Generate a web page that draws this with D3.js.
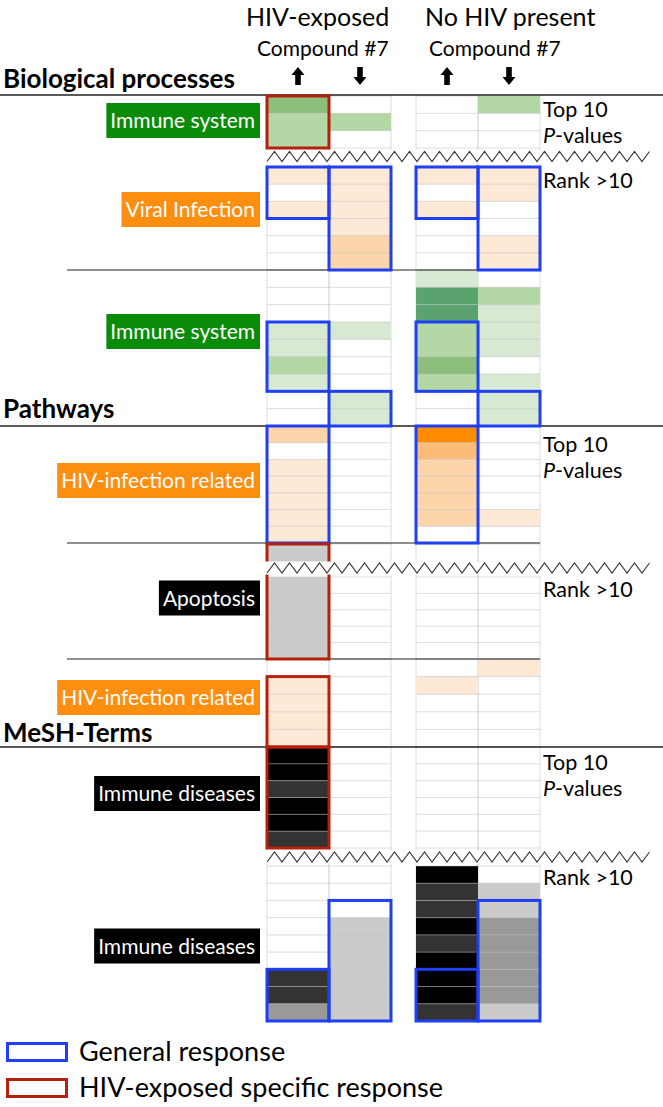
<!DOCTYPE html>
<html>
<head>
<meta charset="utf-8">
<style>
    body { margin: 0; background: #fff; }
    text { font-family: Lato, "Open Sans", sans-serif; fill: #000; }
</style>
</head>
<body>
<div id="vis"></div>
<script src="https://d3js.org/d3.v7.min.js"></script>
<script>
    // columns: condition x direction of regulation
    const conditions = ["HIV-exposed", "No HIV present"];
    const directions = ["up", "down"];
    const compoundLabel = "Compound #7";

    // enrichment level of each cell (0 = none ... 4 = strongest)
    // one array per column: HIV-exposed up, HIV-exposed down, No HIV up, No HIV down
    const bpTopImmune    = [[3,2,2], [0,2,0], [0,0,0], [2,0,0]];
    const bpRankViral    = [[1,0,1,0,0,0], [1,1,1,1,2,2], [1,0,1,0,0,0], [1,1,0,0,1,1]];
    const bpRankImmune   = [[0,0,0,1,1,2,1,0,0], [0,0,0,1,0,0,0,1,1], [1,4,4,2,2,3,2,0,0], [0,2,1,1,1,0,1,1,1]];
    const pwTopHiv       = [[2,0,1,1,1,1,1], [0,0,0,0,0,0,0], [4,3,2,2,2,2,0], [0,0,0,0,0,1,0]];
    const pwTopApoptosis = [[1], [0], [0], [0]];
    const pwRankApoptosis = [[1,1,1,1,1], [0,0,0,0,0], [0,0,0,0,0], [0,0,0,0,0]];
    const pwRankHiv      = [[0,1,1,1,1], [0,0,0,0,0], [0,1,0,0,0], [1,0,0,0,0]];
    const meshTopImmune  = [[4,4,3,4,4,3], [0,0,0,0,0,0], [0,0,0,0,0,0], [0,0,0,0,0,0]];
    const meshRankImmune = [[0,0,0,0,0,0,3,3,2], [0,0,0,1,1,1,1,1,1], [4,3,3,4,3,4,4,4,3], [0,1,1,2,2,2,2,2,1]];

    // term labels on the left
    const termLabels = [
        {text: "Immune system", kind: "green"},
        {text: "Viral Infection", kind: "orange"},
        {text: "Immune system", kind: "green"},
        {text: "HIV-infection related", kind: "orange"},
        {text: "Apoptosis", kind: "gray"},
        {text: "HIV-infection related", kind: "orange"},
        {text: "Immune diseases", kind: "gray"},
        {text: "Immune diseases", kind: "gray"}
    ];
    const categoryTitles = ["Biological processes", "Pathways", "MeSH-Terms"];

    // outlined groups: col index, first and last row (section, row)
    const responseBoxes = [
        {type: "hiv", col: 0, from: ["bpTop", 0], to: ["bpTop", 2]},
        {type: "general", col: 0, from: ["bpViral", 0], to: ["bpViral", 2]},
        {type: "general", col: 1, from: ["bpViral", 0], to: ["bpViral", 5]},
        {type: "general", col: 2, from: ["bpViral", 0], to: ["bpViral", 2]},
        {type: "general", col: 3, from: ["bpViral", 0], to: ["bpViral", 5]},
        {type: "general", col: 0, from: ["bpImmune", 3], to: ["bpImmune", 6]},
        {type: "general", col: 1, from: ["bpImmune", 7], to: ["bpImmune", 8]},
        {type: "general", col: 2, from: ["bpImmune", 3], to: ["bpImmune", 6]},
        {type: "general", col: 3, from: ["bpImmune", 7], to: ["bpImmune", 8]},
        {type: "general", col: 0, from: ["pwHiv", 0], to: ["pwHiv", 6]},
        {type: "general", col: 2, from: ["pwHiv", 0], to: ["pwHiv", 6]},
        {type: "hiv", col: 0, from: ["pwApoTop", 0], to: ["pwApo", 4]},
        {type: "hiv", col: 0, from: ["pwHivRank", 1], to: ["pwHivRank", 4]},
        {type: "hiv", col: 0, from: ["meshTop", 0], to: ["meshTop", 5]},
        {type: "general", col: 0, from: ["meshRank", 6], to: ["meshRank", 8]},
        {type: "general", col: 1, from: ["meshRank", 2], to: ["meshRank", 8]},
        {type: "general", col: 2, from: ["meshRank", 6], to: ["meshRank", 8]},
        {type: "general", col: 3, from: ["meshRank", 2], to: ["meshRank", 8]}
    ];
    const legendItems = [
        {type: "general", text: "General response"},
        {type: "hiv", text: "HIV-exposed specific response"}
    ];

    // ---- layout ----
    const width = 663, height = 1107;
    const gridLeft = 267, gridRight = 540;

    const palettes = {
        green:  ["#ffffff", "#d7e9d3", "#b3d7a5", "#8cbe7c", "#5aa36f"],
        orange: ["#ffffff", "#fde9d5", "#fcd5aa", "#fdbb78", "#ff8c00"],
        gray:   ["#ffffff", "#cbcbcb", "#999999", "#333333", "#000000"]
    };
    const labelColors = {green: "#0a8c0a", orange: "#fd8e10", gray: "#000000"};
    const boxColors = {general: "#1f3ff5", hiv: "#b3200c"};

    const sections = [
        {id: "bpTop",     values: bpTopImmune,     kind: "green",  y0: 96,  y1: 148},
        {id: "bpViral",   values: bpRankViral,     kind: "orange", y0: 167, y1: 270},
        {id: "bpImmune",  values: bpRankImmune,    kind: "green",  y0: 270, y1: 426},
        {id: "pwHiv",     values: pwTopHiv,        kind: "orange", y0: 426, y1: 543},
        {id: "pwApoTop",  values: pwTopApoptosis,  kind: "gray",   y0: 544, y1: 562},
        {id: "pwApo",     values: pwRankApoptosis, kind: "gray",   y0: 577, y1: 659},
        {id: "pwHivRank", values: pwRankHiv,       kind: "orange", y0: 659, y1: 747},
        {id: "meshTop",   values: meshTopImmune,   kind: "gray",   y0: 747, y1: 848},
        {id: "meshRank",  values: meshRankImmune,  kind: "gray",   y0: 866, y1: 1021}
    ];
    sections.forEach(function (s) {
        s.y = d3.scaleBand().domain(d3.range(s.values[0].length)).range([s.y0, s.y1]);
    });
    const sectionById = {};
    sections.forEach(function (s) { sectionById[s.id] = s; });

    const labelY = [120.5, 209.5, 331.5, 480.5, 598, 697.5, 793.5, 946];
    const titleY = [88, 418, 742];
    const fullLines = [95, 426, 747];
    const innerLines = [270, 543, 659];
    const zigzagY = [156.5, 568, 857];
    const topTenY = [117, 452, 770];
    const rankY = [188, 597, 885];

    // column scales
    let xOuter = d3.scaleBand().domain(conditions).range([gridLeft, gridRight]).paddingInner(0.168);
    let xInner = d3.scaleBand().domain(directions).range([0, xOuter.bandwidth()]);
    function colX(i) { return xOuter(conditions[Math.floor(i / 2)]) + xInner(directions[i % 2]); }
    const colW = xInner.bandwidth();

    let svg = d3.select("#vis").append("svg")
        .attr("width", width)
        .attr("height", height);
    svg.append("rect").attr("width", width).attr("height", height).attr("fill", "#fff");

    // header
    svg.append("text").attr("x", 246).attr("y", 26).style("font-size", "25px").text(conditions[0]);
    svg.append("text").attr("x", 425).attr("y", 26).style("font-size", "25px").text(conditions[1]);
    svg.append("text").attr("x", 257).attr("y", 56).style("font-size", "21px").text(compoundLabel);
    svg.append("text").attr("x", 429).attr("y", 56).style("font-size", "21px").text(compoundLabel);

    // arrows above each column
    d3.range(4).forEach(function (i) {
        let cx = colX(i) + colW / 2;
        let up = i % 2 === 0;
        let tip = up ? 67 : 85, base = up ? 85 : 67, neck = up ? 75 : 77;
        let p = d3.path();
        p.moveTo(cx, tip);
        p.lineTo(cx + 6.5, neck);
        p.lineTo(cx + 2.8, neck);
        p.lineTo(cx + 2.8, base);
        p.lineTo(cx - 2.8, base);
        p.lineTo(cx - 2.8, neck);
        p.lineTo(cx - 6.5, neck);
        p.closePath();
        svg.append("path").attr("d", p.toString()).attr("fill", "#000");
    });

    // vertical grid
    let vx = [];
    d3.range(4).forEach(function (i) { vx.push(colX(i), colX(i) + colW); });
    svg.append("g").selectAll("line")
        .data(vx)
        .enter().append("line")
        .attr("x1", d => d).attr("x2", d => d)
        .attr("y1", 95).attr("y2", 1021)
        .attr("stroke", "#dcdcdc").attr("stroke-width", 1);

    // cells
    let cells = [];
    sections.forEach(function (s) {
        s.values.forEach(function (col, ci) {
            col.forEach(function (v, ri) {
                if (v > 0) cells.push({s: s, col: ci, row: ri, v: v});
            });
        });
    });
    svg.append("g").selectAll("rect")
        .data(cells)
        .enter().append("rect")
        .attr("x", d => colX(d.col))
        .attr("y", d => d.s.y(d.row))
        .attr("width", colW)
        .attr("height", d => d.s.y.bandwidth())
        .attr("fill", d => palettes[d.s.kind][d.v]);

    // horizontal row lines over the cells
    let rowLines = [];
    sections.forEach(function (s) {
        s.y.domain().forEach(function (r) {
            conditions.forEach(function (c) { rowLines.push({y: s.y(r), x: xOuter(c)}); });
        });
        conditions.forEach(function (c) { rowLines.push({y: s.y1, x: xOuter(c)}); });
    });
    svg.append("g").selectAll("line")
        .data(rowLines)
        .enter().append("line")
        .attr("x1", d => d.x).attr("x2", d => d.x + xOuter.bandwidth())
        .attr("y1", d => d.y).attr("y2", d => d.y)
        .attr("stroke", "#bbbbbb").attr("stroke-opacity", 0.5).attr("stroke-width", 1);

    // section separators
    svg.append("g").selectAll("line")
        .data(fullLines)
        .enter().append("line")
        .attr("x1", 0).attr("x2", width)
        .attr("y1", d => d).attr("y2", d => d)
        .attr("stroke", "#222").attr("stroke-width", 1.3);
    svg.append("g").selectAll("line")
        .data(innerLines)
        .enter().append("line")
        .attr("x1", 67).attr("x2", gridRight)
        .attr("y1", d => d).attr("y2", d => d)
        .attr("stroke", "#222").attr("stroke-width", 1.2);

    // response outlines
    svg.append("g").selectAll("rect")
        .data(responseBoxes)
        .enter().append("rect")
        .attr("x", d => colX(d.col))
        .attr("y", d => sectionById[d.from[0]].y(d.from[1]))
        .attr("width", colW)
        .attr("height", function (d) {
            let e = sectionById[d.to[0]];
            return e.y(d.to[1]) + e.y.bandwidth() - sectionById[d.from[0]].y(d.from[1]);
        })
        .attr("fill", "none")
        .attr("stroke", d => boxColors[d.type])
        .attr("stroke-width", 3);

    // zigzag breaks between top 10 and rank > 10
    zigzagY.forEach(function (zy) {
        svg.append("rect")
            .attr("x", gridLeft - 3).attr("y", zy - 6.5)
            .attr("width", gridRight - gridLeft + 6).attr("height", 13)
            .attr("fill", "#fff");
        let pts = d3.range(gridLeft, 656, 7.5).map((x, i) => [x, zy + (i % 2 === 0 ? 5 : -5)]);
        svg.append("path")
            .attr("d", d3.line()(pts))
            .attr("fill", "none").attr("stroke", "#333").attr("stroke-width", 1.1);
    });

    // category titles
    svg.append("g").selectAll("text")
        .data(categoryTitles)
        .enter().append("text")
        .attr("x", 3).attr("y", (d, i) => titleY[i])
        .style("font-size", "26px").style("font-weight", "bold")
        .text(d => d);

    // term labels (coloured boxes)
    termLabels.forEach(function (d, i) {
        let g = svg.append("g");
        let t = g.append("text")
            .attr("x", 255).attr("y", labelY[i] + 7.5)
            .attr("text-anchor", "end")
            .style("font-size", "21px").style("fill", "#fff")
            .text(d.text);
        let w = t.node().getComputedTextLength();
        g.insert("rect", "text")
            .attr("x", 255 - w - 4).attr("y", labelY[i] - 17.5)
            .attr("width", w + 9).attr("height", 35)
            .attr("fill", labelColors[d.kind]);
    });

    // right side notes
    topTenY.forEach(function (y) {
        svg.append("text").attr("x", 543).attr("y", y).style("font-size", "21.5px").text("Top 10");
        let t = svg.append("text").attr("x", 543).attr("y", y + 26).style("font-size", "21.5px");
        t.append("tspan").style("font-style", "italic").text("P");
        t.append("tspan").text("-values");
    });
    rankY.forEach(function (y) {
        svg.append("text").attr("x", 543).attr("y", y).style("font-size", "21.5px").text("Rank >10");
    });

    // legend
    let legend = svg.append("g").selectAll("g")
        .data(legendItems)
        .enter().append("g")
        .attr("transform", (d, i) => "translate(0," + (1043.5 + i * 36) + ")");
    legend.append("rect")
        .attr("x", 7.5).attr("y", 0).attr("width", 59).attr("height", 17)
        .attr("fill", "none").attr("stroke", d => boxColors[d.type]).attr("stroke-width", 3);
    legend.append("text")
        .attr("x", 79).attr("y", 17)
        .style("font-size", "27px")
        .text(d => d.text);
</script>
</body>
</html>
